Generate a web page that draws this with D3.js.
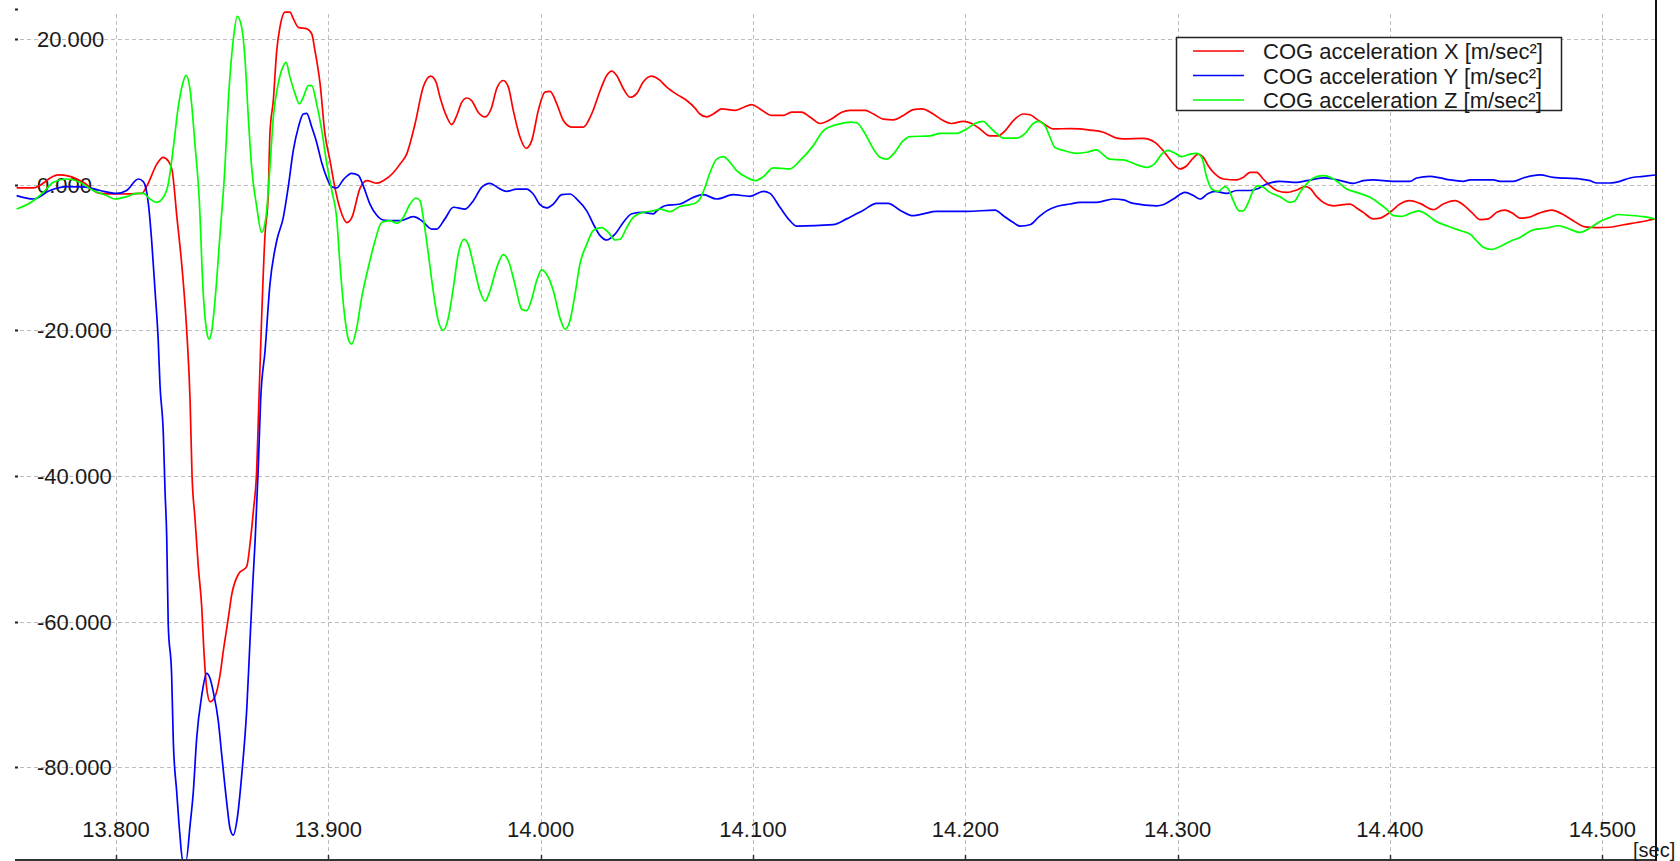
<!DOCTYPE html>
<html>
<head>
<meta charset="utf-8">
<script src="https://cdn.jsdelivr.net/npm/d3@7"></script>
<style>
  html, body { margin: 0; padding: 0; background: #fff; }
  svg { display: block; }
  text { font-family: "Liberation Sans", Arial, sans-serif; fill: #1a1a1a; }
</style>
</head>
<body>
<svg id="chart" width="1680" height="861"></svg>
<script>
// ---------------- data ----------------
const seriesNames = ["COG acceleration X [m/sec\u00b2]", "COG acceleration Y [m/sec\u00b2]", "COG acceleration Z [m/sec\u00b2]"];
const seriesColors = ["#ff0000", "#0000ff", "#00ff00"];
const xTickValues = [13.8, 13.9, 14.0, 14.1, 14.2, 14.3, 14.4, 14.5];
const yTickValues = [20, 0, -20, -40, -60, -80];
const xUnitLabel = "[sec]";

const accelX = [
[13.7532,-0.45],[13.7609,-0.45],[13.7727,1.33],[13.7783,1.14],[13.7845,0.32],[13.7925,-1.2],[13.8005,-1.28],[13.8122,-1.2],
[13.8146,-0.14],[13.8193,2.85],[13.8221,3.76],[13.8245,3.3],[13.8264,2.0],[13.8287,-4.5],[13.8311,-11.4],[13.8334,-20.5],
[13.8349,-29.7],[13.8358,-39.8],[13.8372,-45.8],[13.8388,-52.6],[13.8404,-58.1],[13.8413,-63.5],[13.8427,-69.1],[13.8443,-71.0],
[13.8466,-70.3],[13.8490,-67.3],[13.8505,-64.1],[13.8529,-59.5],[13.8545,-56.3],[13.8576,-53.5],[13.8616,-52.4],[13.8631,-49.4],
[13.8647,-44.8],[13.8663,-38.9],[13.8673,-29.7],[13.8702,-6.8],[13.8717,-1.3],[13.8725,7.0],[13.8741,11.6],[13.8757,18.4],
[13.8772,21.6],[13.8796,23.7],[13.8819,23.7],[13.8835,22.8],[13.8859,21.6],[13.8898,21.4],[13.8922,20.7],[13.8937,18.4],
[13.8961,13.9],[13.8984,7.0],[13.9008,3.3],[13.9031,-0.4],[13.9055,-3.3],[13.9088,-5.2],[13.9111,-4.5],[13.9149,-0.5],
[13.9182,0.55],[13.9229,0.2],[13.9262,0.6],[13.9305,1.6],[13.9338,2.85],[13.9369,4.2],[13.9408,8.3],[13.9447,13.4],
[13.9482,14.9],[13.9507,14.1],[13.9526,12.0],[13.9558,9.3],[13.9581,8.25],[13.9605,9.5],[13.9628,11.3],[13.9652,11.9],
[13.9675,11.55],[13.9706,9.95],[13.9738,9.3],[13.9769,10.6],[13.9793,13.2],[13.9824,14.3],[13.9848,13.4],[13.9871,10.2],
[13.9903,6.5],[13.9931,5.0],[13.9958,6.05],[13.9989,10.2],[14.0020,12.7],[14.0044,12.8],[14.0076,11.1],[14.0107,8.8],
[14.0146,7.9],[14.0201,7.9],[14.0240,9.7],[14.0280,12.9],[14.0311,15.0],[14.0335,15.6],[14.0358,15.0],[14.0389,13.2],
[14.0421,12.0],[14.0452,12.5],[14.0483,14.1],[14.0523,14.9],[14.0554,14.5],[14.0594,13.4],[14.0641,12.4],[14.0688,11.55],
[14.0727,10.5],[14.0750,9.7],[14.0782,9.3],[14.0813,9.7],[14.0853,10.4],[14.0915,10.2],[14.0954,10.6],[14.0994,11.0],
[14.1033,10.4],[14.1088,9.5],[14.1143,9.5],[14.1182,9.95],[14.1229,9.95],[14.1268,9.3],[14.1316,8.4],[14.1363,8.9],
[14.1418,9.95],[14.1457,10.2],[14.1528,10.2],[14.1567,9.7],[14.1614,9.0],[14.1661,8.9],[14.1708,9.5],[14.1755,10.3],
[14.1795,10.4],[14.1849,9.7],[14.1896,8.8],[14.1936,8.4],[14.1990,8.7],[14.2030,8.4],[14.2069,7.65],[14.2116,6.7],
[14.2155,6.7],[14.2187,7.4],[14.2226,8.8],[14.2273,9.7],[14.2305,9.6],[14.2336,9.0],[14.2383,8.1],[14.2414,7.65],
[14.2493,7.7],[14.2540,7.65],[14.2587,7.5],[14.2650,7.2],[14.2713,6.4],[14.2744,6.3],[14.2838,6.35],[14.2893,5.8],
[14.2925,4.9],[14.2956,3.76],[14.2988,2.6],[14.3011,2.16],[14.3043,2.6],[14.3074,3.67],[14.3097,4.2],[14.3121,3.76],
[14.3144,2.6],[14.3176,1.47],[14.3215,0.78],[14.3278,0.65],[14.3309,1.0],[14.3341,1.7],[14.3372,1.7],[14.3403,0.78],
[14.3435,-0.14],[14.3467,-0.8],[14.3514,-1.06],[14.3561,-0.73],[14.3600,-0.28],[14.3623,-0.5],[14.3655,-1.65],[14.3686,-2.43],
[14.3733,-2.9],[14.3780,-2.75],[14.3812,-2.66],[14.3843,-3.2],[14.3874,-3.8],[14.3921,-4.7],[14.3953,-4.6],[14.4000,-3.8],
[14.4047,-2.66],[14.4094,-2.2],[14.4141,-2.57],[14.4204,-3.44],[14.4251,-2.66],[14.4306,-2.2],[14.4345,-2.75],[14.4385,-3.8],
[14.4424,-4.8],[14.4463,-4.7],[14.4503,-3.8],[14.4542,-3.5],[14.4581,-4.0],[14.4612,-4.6],[14.4652,-4.5],[14.4699,-3.95],
[14.4762,-3.5],[14.4809,-4.0],[14.4863,-4.95],[14.4919,-5.8],[14.4974,-5.9],[14.5036,-5.85],[14.5099,-5.5],[14.5162,-5.2],
[14.5209,-4.95],[14.5248,-4.7]
];

const accelY = [
[13.7532,-1.5],[13.7611,-1.97],[13.7689,-0.8],[13.7768,-0.28],[13.7846,-0.3],[13.7925,-0.8],[13.8003,-1.2],[13.8050,-0.8],
[13.8105,0.78],[13.8129,0.4],[13.8141,-0.5],[13.8152,-2.5],[13.8168,-7.7],[13.8184,-14.6],[13.8199,-21.5],[13.8207,-27.4],
[13.8223,-34.3],[13.8231,-42.1],[13.8239,-48.5],[13.8246,-60.4],[13.8262,-67.3],[13.8270,-76.5],[13.8286,-83.4],[13.8301,-89.3],
[13.8314,-92.8],[13.8330,-92.8],[13.8349,-87.9],[13.8364,-83.4],[13.8380,-76.0],[13.8404,-70.1],[13.8427,-67.1],[13.8443,-67.8],
[13.8458,-69.6],[13.8482,-73.7],[13.8498,-78.3],[13.8521,-84.7],[13.8537,-88.4],[13.8552,-89.3],[13.8571,-87.0],[13.8592,-81.1],
[13.8616,-71.9],[13.8631,-62.7],[13.8644,-54.9],[13.8655,-49.0],[13.8670,-38.9],[13.8681,-29.7],[13.8702,-22.8],[13.8725,-13.7],
[13.8757,-7.7],[13.8788,-4.5],[13.8811,-0.37],[13.8835,4.7],[13.8859,7.9],[13.8882,9.7],[13.8898,9.8],[13.8922,7.9],
[13.8945,5.8],[13.8969,3.0],[13.8992,1.0],[13.9016,-0.3],[13.9039,-0.45],[13.9071,0.7],[13.9110,1.55],[13.9141,1.3],
[13.9165,-0.2],[13.9196,-2.66],[13.9228,-4.2],[13.9259,-4.85],[13.9306,-4.95],[13.9338,-4.95],[13.9400,-4.4],[13.9440,-4.95],
[13.9487,-6.1],[13.9510,-6.1],[13.9549,-4.7],[13.9589,-3.1],[13.9644,-3.35],[13.9683,-2.2],[13.9722,-0.37],[13.9761,0.18],
[13.9801,-0.45],[13.9840,-0.92],[13.9887,-0.6],[13.9934,-0.6],[13.9965,-1.28],[13.9997,-2.75],[14.0028,-3.2],[14.0060,-2.66],
[14.0099,-1.38],[14.0138,-1.28],[14.0170,-1.97],[14.0217,-3.6],[14.0248,-5.4],[14.0280,-7.0],[14.0311,-7.6],[14.0350,-6.8],
[14.0389,-5.2],[14.0429,-4.0],[14.0483,-3.8],[14.0531,-4.0],[14.0547,-3.6],[14.0586,-2.9],[14.0656,-2.66],[14.0719,-1.74],
[14.0766,-1.38],[14.0829,-1.97],[14.0907,-1.38],[14.0986,-1.6],[14.1049,-0.92],[14.1080,-1.2],[14.1127,-3.1],[14.1174,-4.95],
[14.1206,-5.7],[14.1378,-5.5],[14.1441,-4.7],[14.1520,-3.5],[14.1583,-2.57],[14.1637,-2.57],[14.1692,-3.5],[14.1755,-4.26],
[14.1802,-4.0],[14.1865,-3.67],[14.2007,-3.67],[14.2140,-3.5],[14.2179,-4.26],[14.2226,-5.2],[14.2258,-5.7],[14.2305,-5.5],
[14.2344,-4.5],[14.2383,-3.6],[14.2430,-3.0],[14.2493,-2.66],[14.2540,-2.43],[14.2619,-2.43],[14.2697,-1.97],[14.2744,-2.1],
[14.2791,-2.57],[14.2901,-2.9],[14.2932,-2.75],[14.2980,-1.97],[14.3035,-1.06],[14.3074,-1.5],[14.3105,-1.97],[14.3144,-1.2],
[14.3176,-0.92],[14.3231,-1.2],[14.3278,-0.8],[14.3341,-0.8],[14.3372,-0.6],[14.3419,0.1],[14.3482,0.46],[14.3561,0.32],
[14.3608,0.55],[14.3686,0.92],[14.3733,0.78],[14.3780,0.46],[14.3827,0.18],[14.3874,0.55],[14.3921,0.65],[14.4016,0.46],
[14.4094,0.46],[14.4126,0.92],[14.4188,1.14],[14.4236,0.92],[14.4283,0.65],[14.4345,0.46],[14.4377,0.65],[14.4487,0.65],
[14.4518,0.46],[14.4581,0.46],[14.4628,0.92],[14.4707,1.33],[14.4769,1.0],[14.4895,0.78],[14.4942,0.55],[14.4974,0.23],
[14.5036,0.23],[14.5083,0.46],[14.5130,0.92],[14.5193,1.14],[14.5248,1.33]
];

const accelZ = [
[13.7532,-3.35],[13.7611,-2.2],[13.7658,-1.06],[13.7705,0.32],[13.7768,0.78],[13.7830,0.32],[13.7893,-0.8],[13.7956,-1.5],
[13.7995,-1.97],[13.8050,-1.65],[13.8097,-1.2],[13.8129,-1.2],[13.8160,-1.97],[13.8192,-2.43],[13.8223,-1.74],[13.8246,0.1],
[13.8270,5.1],[13.8293,10.6],[13.8314,13.85],[13.8330,15.0],[13.8349,13.0],[13.8372,5.5],[13.8392,-2.0],[13.8411,-15.0],
[13.8427,-20.1],[13.8438,-21.2],[13.8451,-20.1],[13.8466,-16.0],[13.8490,-6.8],[13.8513,2.38],[13.8529,11.55],[13.8552,19.8],
[13.8571,23.1],[13.8592,21.6],[13.8608,17.1],[13.8623,9.3],[13.8639,2.38],[13.8663,-3.1],[13.8686,-6.55],[13.8706,-4.5],
[13.8725,2.38],[13.8741,9.3],[13.8764,13.85],[13.8785,16.1],[13.8801,16.8],[13.8819,14.8],[13.8843,12.5],[13.8863,11.1],
[13.8882,12.0],[13.8906,13.6],[13.8922,13.6],[13.8945,11.1],[13.8969,7.5],[13.8992,3.0],[13.9016,-0.8],[13.9039,-4.5],
[13.9055,-11.0],[13.9078,-18.3],[13.9094,-21.2],[13.9110,-21.9],[13.9134,-19.6],[13.9157,-15.5],[13.9188,-11.4],[13.9220,-7.7],
[13.9251,-5.2],[13.9290,-4.95],[13.9322,-5.3],[13.9353,-4.5],[13.9385,-2.66],[13.9413,-1.83],[13.9432,-2.2],[13.9447,-4.5],
[13.9471,-9.5],[13.9494,-14.6],[13.9518,-18.7],[13.9541,-20.0],[13.9565,-18.3],[13.9589,-14.1],[13.9612,-9.5],[13.9639,-7.5],
[13.9659,-8.2],[13.9683,-10.9],[13.9714,-14.6],[13.9738,-16.0],[13.9761,-14.6],[13.9793,-11.4],[13.9824,-9.6],[13.9848,-10.45],
[13.9879,-13.7],[13.9911,-17.1],[13.9934,-17.3],[13.9958,-15.7],[13.9981,-13.2],[14.0005,-11.7],[14.0028,-12.3],[14.0060,-14.6],
[14.0091,-18.3],[14.0115,-19.85],[14.0138,-18.7],[14.0162,-15.0],[14.0185,-10.9],[14.0217,-8.2],[14.0248,-6.3],[14.0287,-5.9],
[14.0319,-6.55],[14.0350,-7.6],[14.0374,-7.5],[14.0405,-5.9],[14.0436,-4.5],[14.0483,-3.8],[14.0531,-3.6],[14.0562,-3.35],
[14.0609,-3.7],[14.0656,-3.0],[14.0703,-2.75],[14.0735,-2.43],[14.0750,-1.97],[14.0774,-0.37],[14.0798,1.7],[14.0829,3.5],
[14.0860,3.85],[14.0892,3.07],[14.0923,1.93],[14.0970,1.0],[14.1010,0.55],[14.1049,1.1],[14.1096,2.3],[14.1174,2.16],
[14.1221,3.3],[14.1284,5.36],[14.1331,7.4],[14.1394,8.25],[14.1457,8.6],[14.1488,8.5],[14.1528,7.0],[14.1567,4.9],
[14.1598,3.76],[14.1630,3.5],[14.1661,4.2],[14.1708,6.05],[14.1739,6.6],[14.1834,6.7],[14.1881,7.05],[14.1959,7.05],
[14.2007,7.65],[14.2046,8.4],[14.2085,8.7],[14.2108,8.1],[14.2148,7.0],[14.2179,6.4],[14.2242,6.4],[14.2281,7.0],
[14.2320,8.4],[14.2344,8.7],[14.2375,8.1],[14.2399,6.5],[14.2422,5.1],[14.2462,4.7],[14.2525,4.3],[14.2572,4.45],
[14.2619,4.77],[14.2634,4.5],[14.2681,3.5],[14.2744,3.4],[14.2807,2.75],[14.2854,2.38],[14.2893,2.93],[14.2925,4.2],
[14.2956,4.7],[14.2988,4.3],[14.3019,3.85],[14.3058,4.2],[14.3090,4.3],[14.3113,3.76],[14.3137,1.0],[14.3160,-0.6],
[14.3192,-0.92],[14.3223,-0.28],[14.3239,-0.6],[14.3262,-2.2],[14.3290,-3.6],[14.3309,-3.6],[14.3333,-2.43],[14.3356,-0.8],
[14.3380,-0.14],[14.3403,-0.37],[14.3435,-1.06],[14.3482,-1.65],[14.3529,-2.43],[14.3553,-2.2],[14.3576,-1.06],[14.3608,0.1],
[14.3639,0.92],[14.3686,1.24],[14.3726,0.92],[14.3757,0.32],[14.3796,-0.6],[14.3843,-1.06],[14.3906,-1.74],[14.3953,-2.66],
[14.3985,-3.4],[14.4016,-4.26],[14.4055,-4.35],[14.4094,-3.95],[14.4133,-3.6],[14.4173,-4.1],[14.4212,-4.95],[14.4267,-5.64],
[14.4330,-6.3],[14.4377,-6.8],[14.4408,-7.7],[14.4440,-8.6],[14.4479,-8.9],[14.4518,-8.5],[14.4565,-7.8],[14.4612,-7.25],
[14.4675,-6.2],[14.4738,-5.95],[14.4793,-5.64],[14.4832,-5.95],[14.4895,-6.55],[14.4942,-5.95],[14.4989,-5.05],[14.5036,-4.5],
[14.5075,-4.1],[14.5122,-4.2],[14.5193,-4.4],[14.5248,-4.7]
];

const allSeries = [accelX, accelY, accelZ];

// ---------------- layout ----------------
const W = 1680, H = 861;
const plotRight = 1656, plotBottom = 860, plotTop = 10, plotLeft = 17;

const x = d3.scaleLinear().domain([13.8, 14.5]).range([116, 1602.3]);
const y = d3.scaleLinear().domain([20, -80]).range([39, 767.3]);

const locale = d3.formatLocale({decimal: ".", thousands: ",", grouping: [3], currency: ["", ""], minus: "-"});
const fmt = locale.format(".3f");

const svg = d3.select("#chart");

svg.append("rect").attr("width", W).attr("height", H).attr("fill", "#fff");

// grid
const grid = svg.append("g").attr("stroke", "#bcbcbc").attr("stroke-width", 1).attr("stroke-dasharray", "4,3").attr("shape-rendering", "crispEdges");
grid.selectAll("line.h").data(yTickValues).join("line")
  .attr("x1", plotLeft + 3).attr("x2", plotRight)
  .attr("y1", d => Math.round(y(d)) + 0.5).attr("y2", d => Math.round(y(d)) + 0.5);
grid.selectAll("line.v").data(xTickValues).join("line")
  .attr("y1", plotTop + 4).attr("y2", plotBottom)
  .attr("x1", d => Math.round(x(d)) + 0.5).attr("x2", d => Math.round(x(d)) + 0.5);

// y tick marks (small dots) and labels
svg.append("g").selectAll("line").data(yTickValues).join("line")
  .attr("x1", 15).attr("x2", 18)
  .attr("y1", d => Math.round(y(d)) + 0.5).attr("y2", d => Math.round(y(d)) + 0.5)
  .attr("stroke", "#222").attr("stroke-width", 2);
svg.append("line").attr("x1", 15).attr("x2", 18).attr("y1", 9.5).attr("y2", 9.5).attr("stroke", "#222").attr("stroke-width", 2);

svg.append("g").selectAll("text").data(yTickValues).join("text")
  .attr("x", 37).attr("y", d => y(d) + 8)
  .attr("font-size", 22)
  .text(d => fmt(d));

// x labels
svg.append("g").selectAll("text").data(xTickValues).join("text")
  .attr("x", d => x(d)).attr("y", 837)
  .attr("text-anchor", "middle")
  .attr("font-size", 22)
  .text(d => fmt(d));

// series lines
const defs = svg.append("defs");
defs.append("clipPath").attr("id", "plotclip").append("rect")
  .attr("x", 0).attr("y", 0).attr("width", plotRight).attr("height", plotBottom);

const line = d3.line().x(d => x(d[0])).y(d => y(d[1])).curve(d3.curveMonotoneX);
svg.append("g").attr("clip-path", "url(#plotclip)")
  .selectAll("path").data(allSeries).join("path")
  .attr("d", d => line(d))
  .attr("fill", "none")
  .attr("stroke", (d, i) => seriesColors[i])
  .attr("stroke-width", 1.7)
  .attr("stroke-linejoin", "round");

// axes frame
svg.append("line").attr("x1", 15).attr("x2", plotRight + 1).attr("y1", plotBottom).attr("y2", plotBottom)
  .attr("stroke", "#333").attr("stroke-width", 2);
svg.append("line").attr("x1", plotRight).attr("x2", plotRight).attr("y1", 0).attr("y2", plotBottom + 1)
  .attr("stroke", "#111").attr("stroke-width", 2);
svg.append("g").selectAll("line").data(xTickValues).join("line")
  .attr("x1", d => Math.round(x(d)) + 0.5).attr("x2", d => Math.round(x(d)) + 0.5)
  .attr("y1", plotBottom - 5).attr("y2", plotBottom)
  .attr("stroke", "#333").attr("stroke-width", 1.5);

svg.append("text").attr("x", 1633).attr("y", 857).attr("font-size", 20).text(xUnitLabel);

// legend
const lg = svg.append("g");
lg.append("rect").attr("x", 1176.5).attr("y", 37.5).attr("width", 385).attr("height", 73)
  .attr("fill", "#fff").attr("stroke", "#222").attr("stroke-width", 1.5);
const rowY = [51, 75.5, 100];
seriesNames.forEach((name, i) => {
  lg.append("line").attr("x1", 1193).attr("x2", 1244).attr("y1", rowY[i]).attr("y2", rowY[i])
    .attr("stroke", seriesColors[i]).attr("stroke-width", 1.7);
  lg.append("text").attr("x", 1263).attr("y", rowY[i] + 8).attr("font-size", 22).text(name);
});
</script>
</body>
</html>
